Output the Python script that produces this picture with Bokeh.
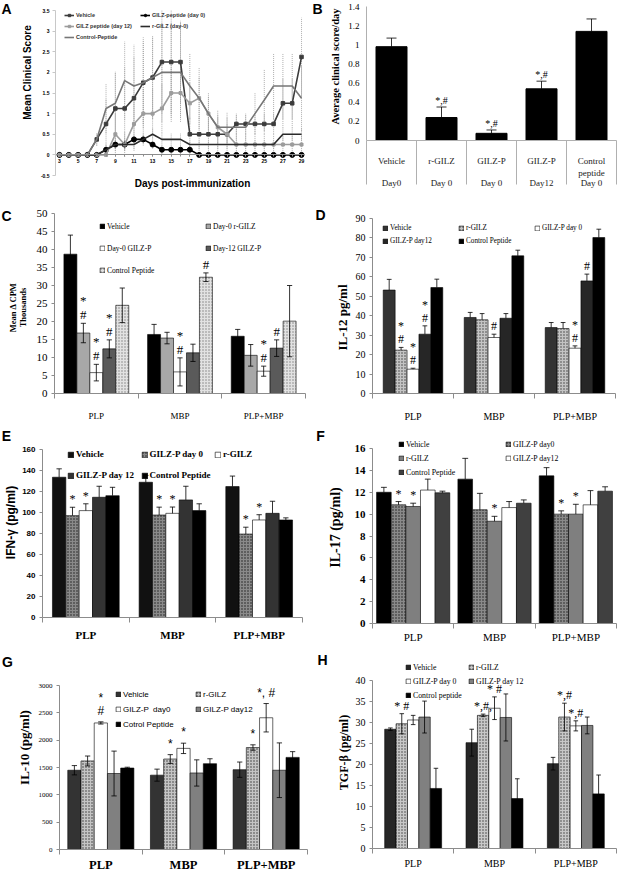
import math
from bokeh.plotting import figure
from bokeh.layouts import row, column
from bokeh.models import Legend, LegendItem, Label, FixedTicker, Range1d, LinearAxis
from bokeh.core.properties import value
from bokeh.embed import file_html
from bokeh.resources import INLINE

SERIF = "Liberation Serif"
SANS = "Liberation Sans"
W = 310

# ======================= DATA =======================
groups = ["PLP", "MBP", "PLP+MBP"]

# Panel A: mean clinical score per day
a_days = list(range(3, 30))
a_names = ["Vehicle", "GILZ-peptide (day 0)", "GILZ peptide (day 12)", "r-GILZ (day-0)", "Control-Peptide"]
a_vehicle = [0, 0, 0, 0, 0.375, 0.75, 1.125, 1.125, 1.375, 1.75, 1.875, 2.25, 2.25, 2.25, 0.5, 0.5, 0.5, 0.5, 0.5,
             0.75, 0.75, 0.75, 0.75, 0.75, 1.25, 1.25, 2.375]
a_vehicle_err = [0, 0, 0, 0, 0.15, 0.6, 0.9, 1.0, 1.0, 1.1, 1.0, 1.25, 1.25, 1.0, 0.4, 0.4, 0.4, 0.4, 0.4,
                 0.25, 0.25, 0.25, 0.25, 0.25, 0.6, 0.6, 0.95]
a_gilzp0 = [0, 0, 0, 0, 0, 0.125, 0.25, 0.25, 0.375, 0.375, 0.25, 0.125, 0.125, 0.125, 0.125,
            0, 0, 0, 0, 0, 0, 0, 0, 0, 0, 0, 0]
a_gilzp0_err = [0, 0, 0, 0, 0, 0.1, 0.1, 0.1, 0.1, 0.1, 0.1, 0.1, 0.1, 0.1, 0.1,
                0, 0, 0, 0, 0, 0, 0, 0, 0, 0, 0, 0]
a_gilzp12 = [0, 0, 0, 0, 0, 0, 0.5, 0.25, 0.75, 1.0, 1.0, 1.125, 1.5, 1.5, 1.25, 1.375, 1.0, 0.67, 0.5,
             0.25, 0.25, 0.25, 0.25, 0.25, 0.25, 0.25, 0.25]
a_gilzp12_err = [0, 0, 0, 0, 0, 0, 0.5, 0.3, 0.6, 0.6, 0.6, 0.6, 0.6, 0.6, 0.5, 0.5, 0.4, 0.3, 0.25,
                 0.25, 0.25, 0.25, 0.25, 0.25, 0.25, 0.25, 0.25]
a_rgilz = [0, 0, 0, 0, 0, 0.125, 0.25, 0.25, 0.25, 0.375, 0.5, 0.375, 0.375, 0.375,
           0.25, 0.25, 0.25, 0.25, 0.25, 0.25, 0.25, 0.25, 0.25, 0.25, 0.5, 0.5, 0.5]
a_rgilz_err = [0, 0, 0, 0, 0, 0.15, 0.15, 0.15, 0.15, 0.15, 0.15, 0.15, 0.15, 0.15,
               0.1, 0.1, 0.1, 0.1, 0.1, 0.1, 0.1, 0.1, 0.1, 0.1, 0.15, 0.15, 0.15]
a_control = [0, 0, 0, 0, 0.375, 1.125, 1.25, 1.8, 1.67, 1.75, 1.875, 2.0, 2.0, 2.0, 1.67, 1.375, 1.0, 0.67,
             0.67, 0.67, 0.67, 1.0, 1.33, 1.67, 1.67, 1.67, 1.375]
a_control_err = [0, 0, 0, 0, 0.15, 0.6, 0.75, 0.95, 1.0, 1.0, 1.0, 1.2, 1.2, 1.2, 0.8, 0.75, 0.5, 0.4,
                 0.35, 0.3, 0.3, 0.5, 0.75, 0.8, 0.8, 0.8, 0.8]

# Panel B: average clinical score/day
b_names = ["Vehicle", "r-GILZ", "GILZ-P", "GILZ-P", "Control\npeptide"]
b_days = ["Day0", "Day 0", "Day 0", "Day12", "Day 0"]
b_values = [0.98, 0.24, 0.075, 0.54, 1.14]
b_errors = [0.09, 0.11, 0.035, 0.08, 0.13]
b_marks = ["", "*,#", "*,#", "*,#", ""]

# Panel C: Mean delta CPM (thousands)
c_series = ["Vehicle", "Day-0 r-GILZ", "Day-0 GILZ-P", "Day-12 GILZ-P", "Control Peptide"]
c_values = [[38.7, 16.4, 15.9], [16.8, 15.4, 10.6], [5.8, 6.0, 6.2], [12.4, 11.3, 12.6], [24.5, 32.3, 20.1]]
c_errors = [[5.3, 2.8, 1.9], [2.7, 1.6, 3.0], [2.3, 3.9, 1.4], [2.5, 2.4, 2.3], [4.8, 1.2, 9.9]]
c_marks = [(0, 1, "*\n#"), (0, 2, "*\n#"), (0, 3, "*\n#"), (1, 2, "*\n#"), (1, 4, "#"), (2, 2, "*\n#"), (2, 3, "#")]

# Panel D: IL-12
d_series = ["Vehicle", "r-GILZ", "GILZ-P day 0", "GILZ-P day12", "Control Peptide"]
d_values = [[53.2, 39.1, 33.9], [22.3, 37.9, 33.4], [12.5, 28.8, 23.3], [30.5, 38.7, 57.9], [54.5, 70.8, 80.2]]
d_errors = [[5.5, 2.6, 2.6], [1.4, 3.2, 3.1], [0.5, 1.7, 1.2], [4.3, 2.4, 3.5], [4.3, 2.9, 4.3]]
d_marks = [(0, 1, "*\n#"), (0, 2, "*\n#"), (0, 3, "*\n#"), (1, 2, "#"), (2, 2, "*\n#"), (2, 3, "#")]

# Panel E: IFN-gamma
e_series = ["Vehicle", "GILZ-P day 0", "r-GILZ", "GILZ-P day 12", "Control Peptide"]
e_values = [[133.6, 128.8, 124.7], [97.0, 97.6, 79.5], [101.8, 99.2, 92.9], [114.5, 112.0, 99.2], [116.0, 101.8, 92.9]]
e_errors = [[8.0, 6.5, 10.0], [8.0, 7.5, 6.5], [6.5, 6.0, 5.0], [10.5, 13.0, 11.5], [8.0, 6.5, 2.0]]
e_marks = [(0, 1, "*"), (0, 2, "*"), (1, 1, "*"), (1, 2, "*"), (2, 1, "*"), (2, 2, "*")]

# Panel F: IL-17
f_series = ["Vehicle", "GILZ-P day0", "r-GILZ", "GILZ-P day12", "Control Peptide"]
f_values = [[12.0, 13.2, 13.5], [10.85, 10.4, 10.0], [10.7, 9.35, 10.0], [12.2, 10.6, 10.85], [11.95, 11.0, 12.1]]
f_errors = [[0.45, 1.9, 0.75], [0.3, 1.5, 0.3], [0.3, 0.45, 0.9], [1.0, 0.55, 1.3], [0.15, 0.3, 0.4]]
f_marks = [(0, 1, "*"), (0, 2, "*"), (1, 2, "*"), (2, 1, "*"), (2, 2, "*")]

# Panel G: IL-10
g_series = ["Vehicle", "r-GILZ", "GILZ-P  day0", "GILZ-P day12", "Cotrol Peptide"]
g_values = [[1450, 1360, 1460], [1620, 1655, 1865], [2315, 1850, 2410], [1390, 1400, 1450], [1490, 1570, 1685]]
g_errors = [[85, 110, 140], [90, 80, 50], [20, 95, 260], [410, 240, 500], [15, 90, 105]]
g_marks = [(0, 2, "*\n#"), (1, 1, "*"), (1, 2, "*"), (2, 1, "*"), (2, 2, "*, #")]

# Panel H: TGF-beta
h_series = ["Vehicle", "r-GILZ", "GILZ-P day 0", "GILZ-P day 12", "Control peptide"]
h_values = [[28.4, 25.2, 20.2], [29.7, 31.7, 31.3], [30.6, 33.4, 29.2], [31.3, 31.2, 29.3], [14.3, 11.9, 13.0]]
h_errors = [[0.3, 3.2, 1.5], [2.4, 0.3, 3.3], [1.1, 2.7, 1.2], [3.8, 5.6, 2.0], [4.8, 4.7, 4.5]]
h_marks = [(0, 1, "* #"), (1, 1, "*,#,"), (1, 2, "* #"), (2, 1, "*,#"), (2, 2, "*,#")]

# ======================= HELPERS =======================
AXC = "#8c8c8c"
LEG_DY = 9
GEO = {}


def new_fig(h, L, R, T, B, xr, yr, xaxis_at=None):
    """Frame covers the whole canvas; axes are pinned at the plot-area edges."""
    fw = W - L - R
    fh = h - T - B
    dx = (xr[1] - xr[0]) / fw
    dy = (yr[1] - yr[0]) / fh
    p = figure(width=W, height=h, x_range=Range1d(xr[0] - L * dx, xr[1] + R * dx),
               y_range=Range1d(yr[0] - B * dy, yr[1] + T * dy), output_backend="svg",
               toolbar_location=None, min_border=0)
    p.title.visible = False
    p.xgrid.visible = False
    p.ygrid.visible = False
    p.outline_line_color = None
    xa = p.xaxis[0]
    xa.fixed_location = yr[0] if xaxis_at is None else xaxis_at
    xa.bounds = (xr[0], xr[1])
    ya = p.yaxis[0]
    ya.fixed_location = xr[0]
    ya.bounds = (yr[0], yr[1])
    GEO[p.id] = (h, L, R, T, B, xr, yr)
    return p


def px2data(p, lx, ly):
    h, L, R, T, B, xr, yr = GEO[p.id]
    fw = W - L - R
    fh = h - T - B
    x = xr[0] + (lx - L) / fw * (xr[1] - xr[0])
    y = yr[1] - (ly - T) / fh * (yr[1] - yr[0])
    return x, y


def put_text(p, txt, lx, ly, font, size, style="bold", angle=0.0, color="black"):
    x, y = px2data(p, lx, ly)
    p.add_layout(Label(x=x, y=y, text=txt, angle=angle, text_font=font, text_font_style=style,
                       text_font_size=f"{size}px", text_align="center", text_baseline="middle",
                       text_color=color, text_line_height=1.0))


def add_legend(p, labels, rends, ncols, lx, ly, font, size, style, g, stride, colstride,
               standoff=2, color="black", gw=None):
    h = GEO[p.id][0]
    rh = int(round(stride))
    for c in range(ncols):
        idx = list(range(c, len(labels), ncols))
        if not idx:
            continue
        items = [LegendItem(label=labels[i], renderers=rends[i]) for i in idx]
        height = len(items) * rh
        top = ly - rh / 2
        leg = Legend(items=items, location=(float(lx + c * colstride), float(h - top - height - LEG_DY)),
                     orientation="vertical", padding=0, margin=0, spacing=0, label_height=rh, label_width=1,
                     glyph_width=int(gw or g), glyph_height=int(g), label_standoff=standoff,
                     label_text_font=font, label_text_font_size=f"{size}px", label_text_font_style=style,
                     label_text_color=color, background_fill_alpha=0, border_line_alpha=0,
                     border_line_color=None)
        p.add_layout(leg)


def fmt(t):
    return f"{round(t, 2):g}"


def style_y(p, ticks, font, size, style, standoff=4):
    ya = p.yaxis[0]
    ya.ticker = FixedTicker(ticks=ticks)
    ya.major_label_overrides = {t: fmt(t) for t in ticks}
    ya.major_label_text_font = font
    ya.major_label_text_font_size = f"{size}px"
    ya.major_label_text_font_style = style
    ya.major_label_text_color = "black"
    ya.major_label_standoff = standoff
    ya.axis_line_color = AXC
    ya.major_tick_line_color = AXC
    ya.major_tick_out = 3
    ya.major_tick_in = 0
    ya.minor_tick_line_color = None


SPK = dict(hatch_pattern="dot", hatch_scale=3, hatch_weight=1.3)


def speck(base, dots):
    d = dict(fill_color=base, hatch_color=dots)
    d.update(SPK)
    return d


def solid(c):
    return dict(fill_color=c)


def bar_panel(cfg, series, vals, errs, marks):
    p = new_fig(cfg["h"], cfg["L"], cfg["R"], cfg["T"], cfg["B"], (0, 3), (0, cfg["ymax"]))
    bw = cfg["bw"]
    rends = []
    for j in range(len(series)):
        xs = [g + 0.5 + (j - 2) * bw for g in range(3)]
        r = p.vbar(x=xs, top=vals[j], bottom=0, width=bw, line_color="black", line_width=0.6,
                   **cfg["fills"][j])
        rends.append([r])
        up = [v + e for v, e in zip(vals[j], errs[j])]
        lo = [v - e for v, e in zip(vals[j], errs[j])] if cfg["two"] else list(vals[j])
        cw = bw * 0.2
        p.segment(x0=xs, y0=lo, x1=xs, y1=up, line_color="black", line_width=0.8)
        p.segment(x0=[x - cw for x in xs], y0=up, x1=[x + cw for x in xs], y1=up, line_color="black",
                  line_width=0.8)
        if cfg["two"]:
            p.segment(x0=[x - cw for x in xs], y0=lo, x1=[x + cw for x in xs], y1=lo, line_color="black",
                      line_width=0.8)
    ax = [m[0] + 0.5 + (m[1] - 2) * bw for m in marks]
    ay = [vals[m[1]][m[0]] + errs[m[1]][m[0]] for m in marks]
    at = [m[2] for m in marks]
    p.text(x=ax, y=ay, text=at, text_align="center", text_baseline="bottom", y_offset=cfg.get("ann_dy", -1),
           text_font=value(cfg["ann_font"]), text_font_size=cfg["ann_size"], text_line_height=0.95,
           text_color="black")
    xa = p.xaxis[0]
    xa.ticker = FixedTicker(ticks=[0.5, 1.5, 2.5], minor_ticks=[0, 1, 2, 3])
    xa.major_label_overrides = {0.5: groups[0], 1.5: groups[1], 2.5: groups[2]}
    xa.major_label_text_font = cfg["xl_font"]
    xa.major_label_text_font_size = cfg["xl_size"]
    xa.major_label_text_font_style = cfg["xl_style"]
    xa.major_label_text_color = "black"
    xa.major_label_standoff = cfg["xl_stand"]
    xa.major_tick_line_color = None
    xa.major_tick_out = 0
    xa.minor_tick_line_color = AXC
    xa.minor_tick_out = 5
    xa.minor_tick_in = 0
    xa.axis_line_color = AXC
    style_y(p, cfg["yticks"], cfg["yt_font"], cfg["yt_size"], cfg["yt_style"])
    tx, ty = cfg["t_xy"]
    put_text(p, cfg["title"], tx, ty, cfg["t_font"], cfg["t_size"], "bold", angle=math.pi / 2)
    lg = cfg["leg"]
    add_legend(p, series, rends, lg["ncols"], lg["x"], lg["y"], lg["font"], lg["size"], lg["style"],
               lg["g"], lg["rs"], lg["cs"])
    lx, ly = cfg["l_xy"]
    put_text(p, cfg["letter"], lx, ly, SANS, 14)
    return p


# ======================= PANEL A =======================
pA = new_fig(207, 55, 6, 10, 32, (2.57, 29.32), (-0.5, 3.5), xaxis_at=0)
a_vals = [a_vehicle, a_gilzp0, a_gilzp12, a_rgilz, a_control]
a_errs = [a_vehicle_err, a_gilzp0_err, a_gilzp12_err, a_rgilz_err, a_control_err]
a_sty = [("#3c3c3c", "square", 3.5), ("#000000", "circle", 5), ("#9c9c9c", "square", 3),
         ("#2a2a2a", None, 0), ("#767676", None, 0)]
for vals, errs in zip(a_vals, a_errs):
    xs = [d for d, e in zip(a_days, errs) if e > 0]
    lo = [v - e for v, e in zip(vals, errs) if e > 0]
    hi = [v + e for v, e in zip(vals, errs) if e > 0]
    pA.segment(x0=xs, y0=lo, x1=xs, y1=hi, line_color="#9a9a9a", line_width=0.8, line_dash="1 1")
a_rends = []
for vals, (c, mk, sz) in zip(a_vals, a_sty):
    rl = [pA.line(a_days, vals, line_color=c, line_width=1.6)]
    if mk:
        rl.append(pA.scatter(a_days, vals, marker=mk, size=sz, fill_color=c, line_color=c))
    a_rends.append(rl)
xa = pA.xaxis[0]
xa.ticker = FixedTicker(ticks=list(range(3, 30, 2)), minor_ticks=a_days)
xa.major_label_text_font = SANS
xa.major_label_text_font_size = "5px"
xa.major_label_text_font_style = "bold"
xa.major_label_text_color = "black"
xa.major_label_standoff = 2
xa.major_tick_out = 2
xa.major_tick_in = 0
xa.minor_tick_out = 2
xa.minor_tick_in = 0
xa.axis_line_color = AXC
xa.major_tick_line_color = AXC
xa.minor_tick_line_color = AXC
style_y(pA, [-0.5, 0, 0.5, 1, 1.5, 2, 2.5, 3, 3.5], SANS, 5, "bold", standoff=3)
pA.yaxis[0].axis_line_color = "#c8c8c8"
pA.yaxis[0].major_tick_line_color = "#c8c8c8"
put_text(pA, "Mean Clinical Score", 27, 72, SANS, 10, angle=math.pi / 2)
put_text(pA, "Days post-immunization", 192, 183, SANS, 10)
add_legend(pA, a_names, a_rends, 2, 64, 6, SANS, 5.5, "bold", 6, 11, 76, gw=10, color="#333333")
put_text(pA, "A", 6, 8, SANS, 14)

# ======================= PANEL B =======================
pB = new_fig(207, 56, 4, 6, 67, (0.5, 5.5), (0, 1.4))
b_x = [i + 1 for i in range(len(b_values))]
pB.vbar(x=b_x, top=b_values, bottom=0, width=0.62, fill_color="black", line_color="black")
b_up = [v + e for v, e in zip(b_values, b_errors)]
pB.segment(x0=b_x, y0=b_values, x1=b_x, y1=b_up, line_color="black", line_width=0.8)
pB.segment(x0=[x - 0.1 for x in b_x], y0=b_up, x1=[x + 0.1 for x in b_x], y1=b_up, line_color="black",
           line_width=0.8)
pB.text(x=b_x, y=b_up, text=b_marks, text_align="center", text_baseline="bottom", y_offset=-1,
        text_font=value(SERIF), text_font_size="10px", text_color="black")
xb = pB.xaxis[0]
xb.ticker = FixedTicker(ticks=b_x, minor_ticks=[x - 0.5 for x in b_x] + [b_x[-1] + 0.5])
xb.major_label_overrides = {x: n for x, n in zip(b_x, b_names)}
xb.major_label_text_font = SERIF
xb.major_label_text_font_size = "9px"
xb.major_label_text_color = "#222222"
xb.major_label_standoff = -29
xb.major_tick_line_color = None
xb.major_tick_out = 0
xb.minor_tick_out = 44
xb.minor_tick_in = 0
xb.minor_tick_line_color = "#b0b0b0"
xb.axis_line_color = "#b0b0b0"
xb2 = LinearAxis(ticker=FixedTicker(ticks=b_x), major_label_overrides={x: d for x, d in zip(b_x, b_days)},
                 major_label_text_font=SERIF, major_label_text_font_size="9px", major_label_text_color="#222222",
                 axis_line_color=None, major_tick_line_color=None, minor_tick_line_color=None,
                 major_tick_out=0, major_tick_in=0, minor_tick_out=0, major_label_standoff=37,
                 fixed_location=0)
pB.add_layout(xb2, "below")
style_y(pB, [0, 0.2, 0.4, 0.6, 0.8, 1.0, 1.2, 1.4], SERIF, 9, "normal")
pB.yaxis[0].major_tick_line_color = None
pB.yaxis[0].axis_line_color = "#b0b0b0"
put_text(pB, "Average clinical score/day", 25, 66, SERIF, 10.5, angle=math.pi / 2)
put_text(pB, "B", 7, 8, SANS, 14)

# ======================= PANELS C-H =======================
cfgC = dict(h=220, L=54, R=5, T=6, B=34, ymax=50, bw=0.155, two=True,
            fills=[solid("#000000"), solid("#a8a8a8"), solid("#ffffff"), solid("#5a5a5a"),
                   speck("#e2e2e2", "#808080")],
            ann_font=SERIF, ann_size="13px", xl_font=SERIF, xl_size="9px", xl_style="normal", xl_stand=12,
            yticks=list(range(0, 51, 5)), yt_font=SERIF, yt_size=11, yt_style="normal",
            title="Mean \u0394 CPM\nThousands", t_font=SERIF, t_size=8.5, t_xy=(17, 100),
            leg=dict(ncols=2, x=99, y=10, font=SERIF, size=7.5, style="normal", g=6, rs=21.5, cs=106),
            letter="C", l_xy=(6, 8))
cfgD = dict(h=220, L=62, R=5, T=11, B=34, ymax=90, bw=0.147, two=False,
            fills=[solid("#333333"), speck("#c4c4c4", "#3a3a3a"), solid("#ffffff"), solid("#262626"),
                   solid("#000000")],
            ann_font=SERIF, ann_size="12px", xl_font=SERIF, xl_size="10px", xl_style="normal", xl_stand=12,
            yticks=list(range(0, 91, 10)), yt_font=SERIF, yt_size=10, yt_style="normal",
            title="IL-12 pg/ml", t_font=SERIF, t_size=13, t_xy=(32, 110),
            leg=dict(ncols=3, x=72, y=12, font=SERIF, size=7.2, style="normal", g=6, rs=13, cs=76),
            letter="D", l_xy=(10, 7))
cfgE = dict(h=215, L=42, R=8, T=22, B=25, ymax=160, bw=0.154, two=False,
            fills=[solid("#111111"), speck("#8a8a8a", "#1a1a1a"), solid("#ffffff"), solid("#333333"),
                   solid("#000000")],
            ann_font=SERIF, ann_size="12px", xl_font=SERIF, xl_size="11px", xl_style="bold", xl_stand=6,
            yticks=list(range(0, 161, 20)), yt_font=SANS, yt_size=8, yt_style="bold",
            title="IFN-\u03b3 (pg/ml)", t_font=SANS, t_size=12, t_xy=(10, 95),
            leg=dict(ncols=3, x=67, y=18, font=SERIF, size=9, style="bold", g=7, rs=21, cs=73.5),
            letter="E", l_xy=(6, 8))
cfgF = dict(h=215, L=62, R=4, T=21, B=19, ymax=16, bw=0.18, two=False,
            fills=[solid("#000000"), speck("#8a8a8a", "#1a1a1a"), solid("#7f7f7f"), solid("#ffffff"),
                   solid("#404040")],
            ann_font=SERIF, ann_size="12px", xl_font=SERIF, xl_size="11px", xl_style="normal", xl_stand=2,
            yticks=list(range(0, 17, 2)), yt_font=SERIF, yt_size=11, yt_style="bold",
            title="IL-17 (pg/ml)", t_font=SERIF, t_size=14, t_xy=(25, 100),
            leg=dict(ncols=2, x=88, y=8, font=SERIF, size=7.8, style="normal", g=6, rs=14, cs=107),
            letter="F", l_xy=(10, 8))
cfgG = dict(h=229, L=59, R=3, T=43, B=22, ymax=3000, bw=0.16, two=True,
            fills=[solid("#333333"), speck("#c4c4c4", "#333333"), solid("#ffffff"), solid("#808080"),
                   solid("#000000")],
            ann_font=SANS, ann_size="12px", ann_dy=-4, xl_font=SERIF, xl_size="12.5px", xl_style="bold",
            xl_stand=3,
            yticks=list(range(0, 3001, 500)), yt_font=SERIF, yt_size=7, yt_style="normal",
            title="IL-10 (pg/ml)", t_font=SERIF, t_size=13, t_xy=(24, 105),
            leg=dict(ncols=2, x=115, y=43, font=SANS, size=8, style="normal", g=6, rs=15, cs=80),
            letter="G", l_xy=(7, 19))
cfgH = dict(h=229, L=62, R=4, T=38, B=23, ymax=40, bw=0.14, two=True,
            fills=[solid("#262626"), speck("#c8c8c8", "#3a3a3a"), solid("#ffffff"), solid("#808080"),
                   solid("#000000")],
            ann_font=SERIF, ann_size="12px", xl_font=SERIF, xl_size="10px", xl_style="normal", xl_stand=4,
            yticks=list(range(0, 41, 5)), yt_font=SERIF, yt_size=10, yt_style="normal",
            title="TGF-\u03b2 (pg/ml)", t_font=SERIF, t_size=12, t_xy=(33, 110),
            leg=dict(ncols=2, x=95, y=16, font=SERIF, size=7.8, style="normal", g=6, rs=14, cs=63),
            letter="H", l_xy=(12, 17))

pC = bar_panel(cfgC, c_series, c_values, c_errors, c_marks)
pD = bar_panel(cfgD, d_series, d_values, d_errors, d_marks)
pE = bar_panel(cfgE, e_series, e_values, e_errors, e_marks)
pF = bar_panel(cfgF, f_series, f_values, f_errors, f_marks)
pG = bar_panel(cfgG, g_series, g_values, g_errors, g_marks)
pH = bar_panel(cfgH, h_series, h_values, h_errors, h_marks)

layout = column(row(pA, pB), row(pC, pD), row(pE, pF), row(pG, pH))
open("out.html", "w").write(file_html(layout, INLINE))
